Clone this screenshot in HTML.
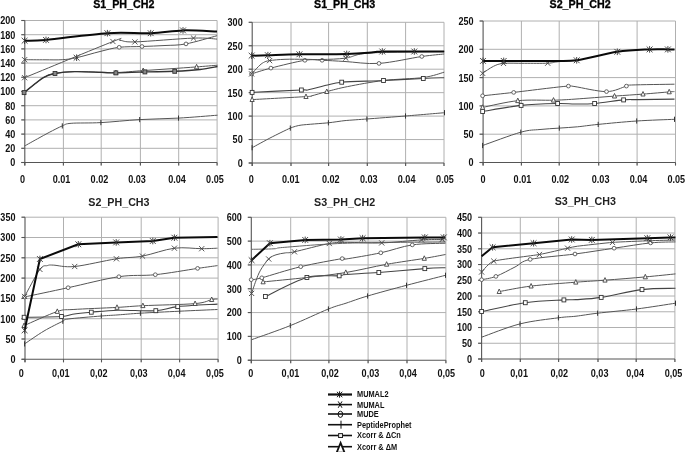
<!DOCTYPE html>
<html><head><meta charset="utf-8"><style>
html,body{margin:0;padding:0;background:#fff;}
body{width:685px;height:452px;overflow:hidden;}
svg{display:block;}
#wrap{will-change:transform;filter:blur(0.3px);}
.lab{font-family:"Liberation Sans", sans-serif;font-size:10.2px;font-weight:bold;fill:#111;}
.ttl{font-family:"Liberation Sans", sans-serif;font-size:10.7px;font-weight:bold;fill:#000;stroke:#000;stroke-width:0.3px;}
.ttl2{font-family:"Liberation Sans", sans-serif;font-size:10.7px;font-weight:bold;fill:#222;}
.leg{font-family:"Liberation Sans", sans-serif;font-size:8.3px;font-weight:bold;fill:#111;}
</style></head><body>
<div id="wrap"><svg width="685" height="452" viewBox="0 0 685 452">
<line x1="21.30" y1="148.30" x2="217.10" y2="148.30" stroke="#b0b0b0" stroke-width="1.0"/>
<line x1="21.30" y1="134.10" x2="217.10" y2="134.10" stroke="#b0b0b0" stroke-width="1.0"/>
<line x1="21.30" y1="119.90" x2="217.10" y2="119.90" stroke="#b0b0b0" stroke-width="1.0"/>
<line x1="21.30" y1="105.70" x2="217.10" y2="105.70" stroke="#b0b0b0" stroke-width="1.0"/>
<line x1="21.30" y1="91.50" x2="217.10" y2="91.50" stroke="#b0b0b0" stroke-width="1.0"/>
<line x1="21.30" y1="77.30" x2="217.10" y2="77.30" stroke="#b0b0b0" stroke-width="1.0"/>
<line x1="21.30" y1="63.10" x2="217.10" y2="63.10" stroke="#b0b0b0" stroke-width="1.0"/>
<line x1="21.30" y1="48.90" x2="217.10" y2="48.90" stroke="#b0b0b0" stroke-width="1.0"/>
<line x1="21.30" y1="34.70" x2="217.10" y2="34.70" stroke="#b0b0b0" stroke-width="1.0"/>
<line x1="21.30" y1="20.50" x2="217.10" y2="20.50" stroke="#b0b0b0" stroke-width="1.0"/>
<line x1="63.40" y1="20.50" x2="63.40" y2="165.50" stroke="#b0b0b0" stroke-width="1.0"/>
<line x1="101.20" y1="20.50" x2="101.20" y2="165.50" stroke="#b0b0b0" stroke-width="1.0"/>
<line x1="140.40" y1="20.50" x2="140.40" y2="165.50" stroke="#b0b0b0" stroke-width="1.0"/>
<line x1="178.70" y1="20.50" x2="178.70" y2="165.50" stroke="#b0b0b0" stroke-width="1.0"/>
<line x1="217.10" y1="20.50" x2="217.10" y2="165.50" stroke="#b0b0b0" stroke-width="1.0"/>
<line x1="21.30" y1="162.50" x2="217.10" y2="162.50" stroke="#555" stroke-width="1.1"/>
<line x1="24.80" y1="20.50" x2="24.80" y2="165.50" stroke="#555" stroke-width="1.1"/>
<line x1="21.30" y1="162.50" x2="24.80" y2="162.50" stroke="#555" stroke-width="1.1"/>
<line x1="21.30" y1="148.30" x2="24.80" y2="148.30" stroke="#555" stroke-width="1.1"/>
<line x1="21.30" y1="134.10" x2="24.80" y2="134.10" stroke="#555" stroke-width="1.1"/>
<line x1="21.30" y1="119.90" x2="24.80" y2="119.90" stroke="#555" stroke-width="1.1"/>
<line x1="21.30" y1="105.70" x2="24.80" y2="105.70" stroke="#555" stroke-width="1.1"/>
<line x1="21.30" y1="91.50" x2="24.80" y2="91.50" stroke="#555" stroke-width="1.1"/>
<line x1="21.30" y1="77.30" x2="24.80" y2="77.30" stroke="#555" stroke-width="1.1"/>
<line x1="21.30" y1="63.10" x2="24.80" y2="63.10" stroke="#555" stroke-width="1.1"/>
<line x1="21.30" y1="48.90" x2="24.80" y2="48.90" stroke="#555" stroke-width="1.1"/>
<line x1="21.30" y1="34.70" x2="24.80" y2="34.70" stroke="#555" stroke-width="1.1"/>
<line x1="21.30" y1="20.50" x2="24.80" y2="20.50" stroke="#555" stroke-width="1.1"/>
<line x1="24.80" y1="162.50" x2="24.80" y2="165.50" stroke="#555" stroke-width="1.1"/>
<line x1="63.40" y1="162.50" x2="63.40" y2="165.50" stroke="#555" stroke-width="1.1"/>
<line x1="101.20" y1="162.50" x2="101.20" y2="165.50" stroke="#555" stroke-width="1.1"/>
<line x1="140.40" y1="162.50" x2="140.40" y2="165.50" stroke="#555" stroke-width="1.1"/>
<line x1="178.70" y1="162.50" x2="178.70" y2="165.50" stroke="#555" stroke-width="1.1"/>
<line x1="217.10" y1="162.50" x2="217.10" y2="165.50" stroke="#555" stroke-width="1.1"/>
<text transform="translate(15.30,166.40) scale(0.89,1)" text-anchor="end" class="lab">0</text>
<text transform="translate(15.30,152.20) scale(0.89,1)" text-anchor="end" class="lab">20</text>
<text transform="translate(15.30,138.00) scale(0.89,1)" text-anchor="end" class="lab">40</text>
<text transform="translate(15.30,123.80) scale(0.89,1)" text-anchor="end" class="lab">60</text>
<text transform="translate(15.30,109.60) scale(0.89,1)" text-anchor="end" class="lab">80</text>
<text transform="translate(15.30,95.40) scale(0.89,1)" text-anchor="end" class="lab">100</text>
<text transform="translate(15.30,81.20) scale(0.89,1)" text-anchor="end" class="lab">120</text>
<text transform="translate(15.30,67.00) scale(0.89,1)" text-anchor="end" class="lab">140</text>
<text transform="translate(15.30,52.80) scale(0.89,1)" text-anchor="end" class="lab">160</text>
<text transform="translate(15.30,38.60) scale(0.89,1)" text-anchor="end" class="lab">180</text>
<text transform="translate(15.30,24.40) scale(0.89,1)" text-anchor="end" class="lab">200</text>
<text transform="translate(22.50,182.90) scale(0.89,1)" text-anchor="middle" class="lab">0</text>
<text transform="translate(61.50,182.90) scale(0.89,1)" text-anchor="middle" class="lab">0.01</text>
<text transform="translate(99.40,182.90) scale(0.89,1)" text-anchor="middle" class="lab">0.02</text>
<text transform="translate(137.00,182.90) scale(0.89,1)" text-anchor="middle" class="lab">0.03</text>
<text transform="translate(177.00,182.90) scale(0.89,1)" text-anchor="middle" class="lab">0.04</text>
<text transform="translate(214.90,182.90) scale(0.89,1)" text-anchor="middle" class="lab">0.05</text>
<text x="123.80" y="7.70" text-anchor="middle" class="ttl">S1_PH_CH2</text>
<line x1="248.70" y1="139.55" x2="444.00" y2="139.55" stroke="#b0b0b0" stroke-width="1.0"/>
<line x1="248.70" y1="116.10" x2="444.00" y2="116.10" stroke="#b0b0b0" stroke-width="1.0"/>
<line x1="248.70" y1="92.65" x2="444.00" y2="92.65" stroke="#b0b0b0" stroke-width="1.0"/>
<line x1="248.70" y1="69.20" x2="444.00" y2="69.20" stroke="#b0b0b0" stroke-width="1.0"/>
<line x1="248.70" y1="45.75" x2="444.00" y2="45.75" stroke="#b0b0b0" stroke-width="1.0"/>
<line x1="248.70" y1="22.30" x2="444.00" y2="22.30" stroke="#b0b0b0" stroke-width="1.0"/>
<line x1="291.00" y1="22.30" x2="291.00" y2="166.00" stroke="#b0b0b0" stroke-width="1.0"/>
<line x1="328.60" y1="22.30" x2="328.60" y2="166.00" stroke="#b0b0b0" stroke-width="1.0"/>
<line x1="367.30" y1="22.30" x2="367.30" y2="166.00" stroke="#b0b0b0" stroke-width="1.0"/>
<line x1="405.60" y1="22.30" x2="405.60" y2="166.00" stroke="#b0b0b0" stroke-width="1.0"/>
<line x1="444.00" y1="22.30" x2="444.00" y2="166.00" stroke="#b0b0b0" stroke-width="1.0"/>
<line x1="248.70" y1="163.00" x2="444.00" y2="163.00" stroke="#555" stroke-width="1.1"/>
<line x1="252.20" y1="22.30" x2="252.20" y2="166.00" stroke="#555" stroke-width="1.1"/>
<line x1="248.70" y1="163.00" x2="252.20" y2="163.00" stroke="#555" stroke-width="1.1"/>
<line x1="248.70" y1="139.55" x2="252.20" y2="139.55" stroke="#555" stroke-width="1.1"/>
<line x1="248.70" y1="116.10" x2="252.20" y2="116.10" stroke="#555" stroke-width="1.1"/>
<line x1="248.70" y1="92.65" x2="252.20" y2="92.65" stroke="#555" stroke-width="1.1"/>
<line x1="248.70" y1="69.20" x2="252.20" y2="69.20" stroke="#555" stroke-width="1.1"/>
<line x1="248.70" y1="45.75" x2="252.20" y2="45.75" stroke="#555" stroke-width="1.1"/>
<line x1="248.70" y1="22.30" x2="252.20" y2="22.30" stroke="#555" stroke-width="1.1"/>
<line x1="252.20" y1="163.00" x2="252.20" y2="166.00" stroke="#555" stroke-width="1.1"/>
<line x1="291.00" y1="163.00" x2="291.00" y2="166.00" stroke="#555" stroke-width="1.1"/>
<line x1="328.60" y1="163.00" x2="328.60" y2="166.00" stroke="#555" stroke-width="1.1"/>
<line x1="367.30" y1="163.00" x2="367.30" y2="166.00" stroke="#555" stroke-width="1.1"/>
<line x1="405.60" y1="163.00" x2="405.60" y2="166.00" stroke="#555" stroke-width="1.1"/>
<line x1="444.00" y1="163.00" x2="444.00" y2="166.00" stroke="#555" stroke-width="1.1"/>
<text transform="translate(242.70,166.90) scale(0.89,1)" text-anchor="end" class="lab">0</text>
<text transform="translate(242.70,143.45) scale(0.89,1)" text-anchor="end" class="lab">50</text>
<text transform="translate(242.70,120.00) scale(0.89,1)" text-anchor="end" class="lab">100</text>
<text transform="translate(242.70,96.55) scale(0.89,1)" text-anchor="end" class="lab">150</text>
<text transform="translate(242.70,73.10) scale(0.89,1)" text-anchor="end" class="lab">200</text>
<text transform="translate(242.70,49.65) scale(0.89,1)" text-anchor="end" class="lab">250</text>
<text transform="translate(242.70,26.20) scale(0.89,1)" text-anchor="end" class="lab">300</text>
<text transform="translate(251.20,182.90) scale(0.89,1)" text-anchor="middle" class="lab">0</text>
<text transform="translate(290.80,182.90) scale(0.89,1)" text-anchor="middle" class="lab">0.01</text>
<text transform="translate(330.70,182.90) scale(0.89,1)" text-anchor="middle" class="lab">0.02</text>
<text transform="translate(368.70,182.90) scale(0.89,1)" text-anchor="middle" class="lab">0.03</text>
<text transform="translate(406.60,182.90) scale(0.89,1)" text-anchor="middle" class="lab">0.04</text>
<text transform="translate(444.90,182.90) scale(0.89,1)" text-anchor="middle" class="lab">0.05</text>
<text x="344.65" y="7.70" text-anchor="middle" class="ttl">S1_PH_CH3</text>
<line x1="479.60" y1="134.20" x2="675.50" y2="134.20" stroke="#b0b0b0" stroke-width="1.0"/>
<line x1="479.60" y1="105.90" x2="675.50" y2="105.90" stroke="#b0b0b0" stroke-width="1.0"/>
<line x1="479.60" y1="77.60" x2="675.50" y2="77.60" stroke="#b0b0b0" stroke-width="1.0"/>
<line x1="479.60" y1="49.30" x2="675.50" y2="49.30" stroke="#b0b0b0" stroke-width="1.0"/>
<line x1="479.60" y1="21.00" x2="675.50" y2="21.00" stroke="#b0b0b0" stroke-width="1.0"/>
<line x1="521.40" y1="21.00" x2="521.40" y2="165.50" stroke="#b0b0b0" stroke-width="1.0"/>
<line x1="559.20" y1="21.00" x2="559.20" y2="165.50" stroke="#b0b0b0" stroke-width="1.0"/>
<line x1="598.70" y1="21.00" x2="598.70" y2="165.50" stroke="#b0b0b0" stroke-width="1.0"/>
<line x1="637.10" y1="21.00" x2="637.10" y2="165.50" stroke="#b0b0b0" stroke-width="1.0"/>
<line x1="675.50" y1="21.00" x2="675.50" y2="165.50" stroke="#b0b0b0" stroke-width="1.0"/>
<line x1="479.60" y1="162.50" x2="675.50" y2="162.50" stroke="#555" stroke-width="1.1"/>
<line x1="483.10" y1="21.00" x2="483.10" y2="165.50" stroke="#555" stroke-width="1.1"/>
<line x1="479.60" y1="162.50" x2="483.10" y2="162.50" stroke="#555" stroke-width="1.1"/>
<line x1="479.60" y1="134.20" x2="483.10" y2="134.20" stroke="#555" stroke-width="1.1"/>
<line x1="479.60" y1="105.90" x2="483.10" y2="105.90" stroke="#555" stroke-width="1.1"/>
<line x1="479.60" y1="77.60" x2="483.10" y2="77.60" stroke="#555" stroke-width="1.1"/>
<line x1="479.60" y1="49.30" x2="483.10" y2="49.30" stroke="#555" stroke-width="1.1"/>
<line x1="479.60" y1="21.00" x2="483.10" y2="21.00" stroke="#555" stroke-width="1.1"/>
<line x1="483.10" y1="162.50" x2="483.10" y2="165.50" stroke="#555" stroke-width="1.1"/>
<line x1="521.40" y1="162.50" x2="521.40" y2="165.50" stroke="#555" stroke-width="1.1"/>
<line x1="559.20" y1="162.50" x2="559.20" y2="165.50" stroke="#555" stroke-width="1.1"/>
<line x1="598.70" y1="162.50" x2="598.70" y2="165.50" stroke="#555" stroke-width="1.1"/>
<line x1="637.10" y1="162.50" x2="637.10" y2="165.50" stroke="#555" stroke-width="1.1"/>
<line x1="675.50" y1="162.50" x2="675.50" y2="165.50" stroke="#555" stroke-width="1.1"/>
<text transform="translate(473.60,166.40) scale(0.89,1)" text-anchor="end" class="lab">0</text>
<text transform="translate(473.60,138.10) scale(0.89,1)" text-anchor="end" class="lab">50</text>
<text transform="translate(473.60,109.80) scale(0.89,1)" text-anchor="end" class="lab">100</text>
<text transform="translate(473.60,81.50) scale(0.89,1)" text-anchor="end" class="lab">150</text>
<text transform="translate(473.60,53.20) scale(0.89,1)" text-anchor="end" class="lab">200</text>
<text transform="translate(473.60,24.90) scale(0.89,1)" text-anchor="end" class="lab">250</text>
<text transform="translate(483.00,182.90) scale(0.89,1)" text-anchor="middle" class="lab">0</text>
<text transform="translate(522.40,182.90) scale(0.89,1)" text-anchor="middle" class="lab">0.01</text>
<text transform="translate(560.20,182.90) scale(0.89,1)" text-anchor="middle" class="lab">0.02</text>
<text transform="translate(600.60,182.90) scale(0.89,1)" text-anchor="middle" class="lab">0.03</text>
<text transform="translate(638.50,182.90) scale(0.89,1)" text-anchor="middle" class="lab">0.04</text>
<text transform="translate(676.20,182.90) scale(0.89,1)" text-anchor="middle" class="lab">0.05</text>
<text x="580.15" y="7.70" text-anchor="middle" class="ttl">S2_PH_CH2</text>
<line x1="21.50" y1="339.00" x2="218.10" y2="339.00" stroke="#b0b0b0" stroke-width="1.0"/>
<line x1="21.50" y1="318.70" x2="218.10" y2="318.70" stroke="#b0b0b0" stroke-width="1.0"/>
<line x1="21.50" y1="298.40" x2="218.10" y2="298.40" stroke="#b0b0b0" stroke-width="1.0"/>
<line x1="21.50" y1="278.10" x2="218.10" y2="278.10" stroke="#b0b0b0" stroke-width="1.0"/>
<line x1="21.50" y1="257.80" x2="218.10" y2="257.80" stroke="#b0b0b0" stroke-width="1.0"/>
<line x1="21.50" y1="237.50" x2="218.10" y2="237.50" stroke="#b0b0b0" stroke-width="1.0"/>
<line x1="21.50" y1="217.20" x2="218.10" y2="217.20" stroke="#b0b0b0" stroke-width="1.0"/>
<line x1="63.50" y1="217.20" x2="63.50" y2="362.30" stroke="#b0b0b0" stroke-width="1.0"/>
<line x1="101.50" y1="217.20" x2="101.50" y2="362.30" stroke="#b0b0b0" stroke-width="1.0"/>
<line x1="141.20" y1="217.20" x2="141.20" y2="362.30" stroke="#b0b0b0" stroke-width="1.0"/>
<line x1="179.60" y1="217.20" x2="179.60" y2="362.30" stroke="#b0b0b0" stroke-width="1.0"/>
<line x1="218.10" y1="217.20" x2="218.10" y2="362.30" stroke="#b0b0b0" stroke-width="1.0"/>
<line x1="21.50" y1="359.30" x2="218.10" y2="359.30" stroke="#555" stroke-width="1.1"/>
<line x1="25.00" y1="217.20" x2="25.00" y2="362.30" stroke="#555" stroke-width="1.1"/>
<line x1="21.50" y1="359.30" x2="25.00" y2="359.30" stroke="#555" stroke-width="1.1"/>
<line x1="21.50" y1="339.00" x2="25.00" y2="339.00" stroke="#555" stroke-width="1.1"/>
<line x1="21.50" y1="318.70" x2="25.00" y2="318.70" stroke="#555" stroke-width="1.1"/>
<line x1="21.50" y1="298.40" x2="25.00" y2="298.40" stroke="#555" stroke-width="1.1"/>
<line x1="21.50" y1="278.10" x2="25.00" y2="278.10" stroke="#555" stroke-width="1.1"/>
<line x1="21.50" y1="257.80" x2="25.00" y2="257.80" stroke="#555" stroke-width="1.1"/>
<line x1="21.50" y1="237.50" x2="25.00" y2="237.50" stroke="#555" stroke-width="1.1"/>
<line x1="21.50" y1="217.20" x2="25.00" y2="217.20" stroke="#555" stroke-width="1.1"/>
<line x1="25.00" y1="359.30" x2="25.00" y2="362.30" stroke="#555" stroke-width="1.1"/>
<line x1="63.50" y1="359.30" x2="63.50" y2="362.30" stroke="#555" stroke-width="1.1"/>
<line x1="101.50" y1="359.30" x2="101.50" y2="362.30" stroke="#555" stroke-width="1.1"/>
<line x1="141.20" y1="359.30" x2="141.20" y2="362.30" stroke="#555" stroke-width="1.1"/>
<line x1="179.60" y1="359.30" x2="179.60" y2="362.30" stroke="#555" stroke-width="1.1"/>
<line x1="218.10" y1="359.30" x2="218.10" y2="362.30" stroke="#555" stroke-width="1.1"/>
<text transform="translate(15.50,363.20) scale(0.89,1)" text-anchor="end" class="lab">0</text>
<text transform="translate(15.50,342.90) scale(0.89,1)" text-anchor="end" class="lab">50</text>
<text transform="translate(15.50,322.60) scale(0.89,1)" text-anchor="end" class="lab">100</text>
<text transform="translate(15.50,302.30) scale(0.89,1)" text-anchor="end" class="lab">150</text>
<text transform="translate(15.50,282.00) scale(0.89,1)" text-anchor="end" class="lab">200</text>
<text transform="translate(15.50,261.70) scale(0.89,1)" text-anchor="end" class="lab">250</text>
<text transform="translate(15.50,241.40) scale(0.89,1)" text-anchor="end" class="lab">300</text>
<text transform="translate(15.50,221.10) scale(0.89,1)" text-anchor="end" class="lab">350</text>
<text transform="translate(21.20,376.60) scale(0.89,1)" text-anchor="middle" class="lab">0</text>
<text transform="translate(60.80,376.60) scale(0.89,1)" text-anchor="middle" class="lab">0,01</text>
<text transform="translate(98.70,376.60) scale(0.89,1)" text-anchor="middle" class="lab">0,02</text>
<text transform="translate(138.70,376.60) scale(0.89,1)" text-anchor="middle" class="lab">0,03</text>
<text transform="translate(176.60,376.60) scale(0.89,1)" text-anchor="middle" class="lab">0,04</text>
<text transform="translate(214.90,376.60) scale(0.89,1)" text-anchor="middle" class="lab">0,05</text>
<text x="118.95" y="205.70" text-anchor="middle" class="ttl2">S2_PH_CH3</text>
<line x1="247.80" y1="336.38" x2="445.90" y2="336.38" stroke="#b0b0b0" stroke-width="1.0"/>
<line x1="247.80" y1="312.57" x2="445.90" y2="312.57" stroke="#b0b0b0" stroke-width="1.0"/>
<line x1="247.80" y1="288.75" x2="445.90" y2="288.75" stroke="#b0b0b0" stroke-width="1.0"/>
<line x1="247.80" y1="264.93" x2="445.90" y2="264.93" stroke="#b0b0b0" stroke-width="1.0"/>
<line x1="247.80" y1="241.12" x2="445.90" y2="241.12" stroke="#b0b0b0" stroke-width="1.0"/>
<line x1="247.80" y1="217.30" x2="445.90" y2="217.30" stroke="#b0b0b0" stroke-width="1.0"/>
<line x1="290.70" y1="217.30" x2="290.70" y2="363.20" stroke="#b0b0b0" stroke-width="1.0"/>
<line x1="328.90" y1="217.30" x2="328.90" y2="363.20" stroke="#b0b0b0" stroke-width="1.0"/>
<line x1="368.10" y1="217.30" x2="368.10" y2="363.20" stroke="#b0b0b0" stroke-width="1.0"/>
<line x1="407.00" y1="217.30" x2="407.00" y2="363.20" stroke="#b0b0b0" stroke-width="1.0"/>
<line x1="445.90" y1="217.30" x2="445.90" y2="363.20" stroke="#b0b0b0" stroke-width="1.0"/>
<line x1="247.80" y1="360.20" x2="445.90" y2="360.20" stroke="#555" stroke-width="1.1"/>
<line x1="251.30" y1="217.30" x2="251.30" y2="363.20" stroke="#555" stroke-width="1.1"/>
<line x1="247.80" y1="360.20" x2="251.30" y2="360.20" stroke="#555" stroke-width="1.1"/>
<line x1="247.80" y1="336.38" x2="251.30" y2="336.38" stroke="#555" stroke-width="1.1"/>
<line x1="247.80" y1="312.57" x2="251.30" y2="312.57" stroke="#555" stroke-width="1.1"/>
<line x1="247.80" y1="288.75" x2="251.30" y2="288.75" stroke="#555" stroke-width="1.1"/>
<line x1="247.80" y1="264.93" x2="251.30" y2="264.93" stroke="#555" stroke-width="1.1"/>
<line x1="247.80" y1="241.12" x2="251.30" y2="241.12" stroke="#555" stroke-width="1.1"/>
<line x1="247.80" y1="217.30" x2="251.30" y2="217.30" stroke="#555" stroke-width="1.1"/>
<line x1="251.30" y1="360.20" x2="251.30" y2="363.20" stroke="#555" stroke-width="1.1"/>
<line x1="290.70" y1="360.20" x2="290.70" y2="363.20" stroke="#555" stroke-width="1.1"/>
<line x1="328.90" y1="360.20" x2="328.90" y2="363.20" stroke="#555" stroke-width="1.1"/>
<line x1="368.10" y1="360.20" x2="368.10" y2="363.20" stroke="#555" stroke-width="1.1"/>
<line x1="407.00" y1="360.20" x2="407.00" y2="363.20" stroke="#555" stroke-width="1.1"/>
<line x1="445.90" y1="360.20" x2="445.90" y2="363.20" stroke="#555" stroke-width="1.1"/>
<text transform="translate(241.80,364.10) scale(0.89,1)" text-anchor="end" class="lab">0</text>
<text transform="translate(241.80,340.28) scale(0.89,1)" text-anchor="end" class="lab">100</text>
<text transform="translate(241.80,316.47) scale(0.89,1)" text-anchor="end" class="lab">200</text>
<text transform="translate(241.80,292.65) scale(0.89,1)" text-anchor="end" class="lab">300</text>
<text transform="translate(241.80,268.83) scale(0.89,1)" text-anchor="end" class="lab">400</text>
<text transform="translate(241.80,245.02) scale(0.89,1)" text-anchor="end" class="lab">500</text>
<text transform="translate(241.80,221.20) scale(0.89,1)" text-anchor="end" class="lab">600</text>
<text transform="translate(250.80,376.60) scale(0.89,1)" text-anchor="middle" class="lab">0</text>
<text transform="translate(290.40,376.60) scale(0.89,1)" text-anchor="middle" class="lab">0,01</text>
<text transform="translate(330.00,376.60) scale(0.89,1)" text-anchor="middle" class="lab">0,02</text>
<text transform="translate(370.40,376.60) scale(0.89,1)" text-anchor="middle" class="lab">0,03</text>
<text transform="translate(408.00,376.60) scale(0.89,1)" text-anchor="middle" class="lab">0,04</text>
<text transform="translate(446.20,376.60) scale(0.89,1)" text-anchor="middle" class="lab">0,05</text>
<text x="344.65" y="205.60" text-anchor="middle" class="ttl2">S3_PH_CH2</text>
<line x1="478.10" y1="343.26" x2="674.90" y2="343.26" stroke="#b0b0b0" stroke-width="1.0"/>
<line x1="478.10" y1="327.51" x2="674.90" y2="327.51" stroke="#b0b0b0" stroke-width="1.0"/>
<line x1="478.10" y1="311.77" x2="674.90" y2="311.77" stroke="#b0b0b0" stroke-width="1.0"/>
<line x1="478.10" y1="296.02" x2="674.90" y2="296.02" stroke="#b0b0b0" stroke-width="1.0"/>
<line x1="478.10" y1="280.28" x2="674.90" y2="280.28" stroke="#b0b0b0" stroke-width="1.0"/>
<line x1="478.10" y1="264.53" x2="674.90" y2="264.53" stroke="#b0b0b0" stroke-width="1.0"/>
<line x1="478.10" y1="248.79" x2="674.90" y2="248.79" stroke="#b0b0b0" stroke-width="1.0"/>
<line x1="478.10" y1="233.04" x2="674.90" y2="233.04" stroke="#b0b0b0" stroke-width="1.0"/>
<line x1="478.10" y1="217.30" x2="674.90" y2="217.30" stroke="#b0b0b0" stroke-width="1.0"/>
<line x1="520.30" y1="217.30" x2="520.30" y2="362.00" stroke="#b0b0b0" stroke-width="1.0"/>
<line x1="558.60" y1="217.30" x2="558.60" y2="362.00" stroke="#b0b0b0" stroke-width="1.0"/>
<line x1="598.00" y1="217.30" x2="598.00" y2="362.00" stroke="#b0b0b0" stroke-width="1.0"/>
<line x1="636.20" y1="217.30" x2="636.20" y2="362.00" stroke="#b0b0b0" stroke-width="1.0"/>
<line x1="674.90" y1="217.30" x2="674.90" y2="362.00" stroke="#b0b0b0" stroke-width="1.0"/>
<line x1="478.10" y1="359.00" x2="674.90" y2="359.00" stroke="#555" stroke-width="1.1"/>
<line x1="481.60" y1="217.30" x2="481.60" y2="362.00" stroke="#555" stroke-width="1.1"/>
<line x1="478.10" y1="359.00" x2="481.60" y2="359.00" stroke="#555" stroke-width="1.1"/>
<line x1="478.10" y1="343.26" x2="481.60" y2="343.26" stroke="#555" stroke-width="1.1"/>
<line x1="478.10" y1="327.51" x2="481.60" y2="327.51" stroke="#555" stroke-width="1.1"/>
<line x1="478.10" y1="311.77" x2="481.60" y2="311.77" stroke="#555" stroke-width="1.1"/>
<line x1="478.10" y1="296.02" x2="481.60" y2="296.02" stroke="#555" stroke-width="1.1"/>
<line x1="478.10" y1="280.28" x2="481.60" y2="280.28" stroke="#555" stroke-width="1.1"/>
<line x1="478.10" y1="264.53" x2="481.60" y2="264.53" stroke="#555" stroke-width="1.1"/>
<line x1="478.10" y1="248.79" x2="481.60" y2="248.79" stroke="#555" stroke-width="1.1"/>
<line x1="478.10" y1="233.04" x2="481.60" y2="233.04" stroke="#555" stroke-width="1.1"/>
<line x1="478.10" y1="217.30" x2="481.60" y2="217.30" stroke="#555" stroke-width="1.1"/>
<line x1="481.60" y1="359.00" x2="481.60" y2="362.00" stroke="#555" stroke-width="1.1"/>
<line x1="520.30" y1="359.00" x2="520.30" y2="362.00" stroke="#555" stroke-width="1.1"/>
<line x1="558.60" y1="359.00" x2="558.60" y2="362.00" stroke="#555" stroke-width="1.1"/>
<line x1="598.00" y1="359.00" x2="598.00" y2="362.00" stroke="#555" stroke-width="1.1"/>
<line x1="636.20" y1="359.00" x2="636.20" y2="362.00" stroke="#555" stroke-width="1.1"/>
<line x1="674.90" y1="359.00" x2="674.90" y2="362.00" stroke="#555" stroke-width="1.1"/>
<text transform="translate(472.10,362.90) scale(0.89,1)" text-anchor="end" class="lab">0</text>
<text transform="translate(472.10,347.16) scale(0.89,1)" text-anchor="end" class="lab">50</text>
<text transform="translate(472.10,331.41) scale(0.89,1)" text-anchor="end" class="lab">100</text>
<text transform="translate(472.10,315.67) scale(0.89,1)" text-anchor="end" class="lab">150</text>
<text transform="translate(472.10,299.92) scale(0.89,1)" text-anchor="end" class="lab">200</text>
<text transform="translate(472.10,284.18) scale(0.89,1)" text-anchor="end" class="lab">250</text>
<text transform="translate(472.10,268.43) scale(0.89,1)" text-anchor="end" class="lab">300</text>
<text transform="translate(472.10,252.69) scale(0.89,1)" text-anchor="end" class="lab">350</text>
<text transform="translate(472.10,236.94) scale(0.89,1)" text-anchor="end" class="lab">400</text>
<text transform="translate(472.10,221.20) scale(0.89,1)" text-anchor="end" class="lab">450</text>
<text transform="translate(482.30,376.60) scale(0.89,1)" text-anchor="middle" class="lab">0</text>
<text transform="translate(519.10,376.60) scale(0.89,1)" text-anchor="middle" class="lab">0,01</text>
<text transform="translate(559.20,376.60) scale(0.89,1)" text-anchor="middle" class="lab">0,02</text>
<text transform="translate(599.60,376.60) scale(0.89,1)" text-anchor="middle" class="lab">0,03</text>
<text transform="translate(635.10,376.60) scale(0.89,1)" text-anchor="middle" class="lab">0,04</text>
<text transform="translate(673.50,376.60) scale(0.89,1)" text-anchor="middle" class="lab">0,05</text>
<text x="585.30" y="205.40" text-anchor="middle" class="ttl2">S3_PH_CH3</text>
<path d="M24.10,92.60 C27.32,90.12 38.25,80.88 43.40,77.70 C48.55,74.52 49.78,74.52 55.00,73.50 C60.22,72.48 66.98,71.82 74.70,71.60 C82.42,71.38 94.43,72.03 101.30,72.20 C108.17,72.37 108.92,72.87 115.90,72.60 C122.88,72.33 134.18,71.23 143.20,70.60 C152.22,69.97 161.10,69.42 170.00,68.80 C178.90,68.18 188.68,67.50 196.60,66.90 C204.52,66.30 214.02,65.48 217.50,65.20" stroke="#555" stroke-width="1.0" fill="none" stroke-linejoin="round"/>
<path d="M115.90,70.00L118.00,74.50L113.80,74.50Z" stroke="#444" stroke-width="0.9" fill="#fff"/>
<path d="M143.20,68.00L145.30,72.50L141.10,72.50Z" stroke="#444" stroke-width="0.9" fill="#fff"/>
<path d="M196.60,64.30L198.70,68.80L194.50,68.80Z" stroke="#444" stroke-width="0.9" fill="#fff"/>
<path d="M24.10,92.60 C27.32,90.12 38.25,80.88 43.40,77.70 C48.55,74.52 49.78,74.52 55.00,73.50 C60.22,72.48 66.98,71.78 74.70,71.60 C82.42,71.42 94.43,72.18 101.30,72.40 C108.17,72.62 108.63,72.98 115.90,72.90 C123.17,72.82 135.10,72.17 144.90,71.90 C154.70,71.63 165.52,71.70 174.70,71.30 C183.88,70.90 192.87,70.30 200.00,69.50 C207.13,68.70 214.58,67.00 217.50,66.50" stroke="#333" stroke-width="1.4" fill="none" stroke-linejoin="round"/>
<rect x="22.20" y="90.60" width="3.8" height="4.0" stroke="#333" stroke-width="0.9" fill="#888"/>
<rect x="53.10" y="71.50" width="3.8" height="4.0" stroke="#333" stroke-width="0.9" fill="#888"/>
<rect x="114.00" y="70.90" width="3.8" height="4.0" stroke="#333" stroke-width="0.9" fill="#888"/>
<rect x="143.00" y="69.90" width="3.8" height="4.0" stroke="#333" stroke-width="0.9" fill="#888"/>
<rect x="172.80" y="69.30" width="3.8" height="4.0" stroke="#333" stroke-width="0.9" fill="#888"/>
<path d="M24.40,146.10 C26.58,144.88 33.37,141.08 37.50,138.80 C41.63,136.52 45.07,134.55 49.20,132.40 C53.33,130.25 58.65,127.42 62.30,125.90 C65.95,124.38 64.67,123.85 71.10,123.30 C77.53,122.75 89.47,123.22 100.90,122.60 C112.33,121.98 126.77,120.35 139.70,119.60 C152.63,118.85 165.53,118.83 178.50,118.10 C191.47,117.37 211.00,115.68 217.50,115.20" stroke="#555" stroke-width="1.0" fill="none" stroke-linejoin="round"/>
<path d="M62.30,123.30V128.50" stroke="#333" stroke-width="1" fill="none"/>
<path d="M100.90,120.00V125.20" stroke="#333" stroke-width="1" fill="none"/>
<path d="M139.70,117.00V122.20" stroke="#333" stroke-width="1" fill="none"/>
<path d="M178.50,115.50V120.70" stroke="#333" stroke-width="1" fill="none"/>
<path d="M24.60,59.70 C28.00,59.72 38.73,59.80 45.00,59.80 C51.27,59.80 56.93,60.05 62.20,59.70 C67.47,59.35 70.30,59.07 76.60,57.70 C82.90,56.33 92.90,53.23 100.00,51.50 C107.10,49.77 112.20,48.13 119.20,47.30 C126.20,46.47 134.37,46.80 142.00,46.50 C149.63,46.20 157.67,45.93 165.00,45.50 C172.33,45.07 177.32,45.53 186.00,43.90 C194.68,42.27 211.92,37.07 217.10,35.70" stroke="#555" stroke-width="1.0" fill="none" stroke-linejoin="round"/>
<path d="M22.00,57.10L27.20,62.30M22.00,62.30L27.20,57.10" stroke="#444" stroke-width="0.9" fill="none"/>
<path d="M76.60,54.40V61.00M73.70,54.80L79.50,60.60M73.70,60.60L79.50,54.80" stroke="#333" stroke-width="0.9" fill="none"/>
<ellipse cx="119.20" cy="47.30" rx="1.9" ry="1.85" stroke="#555" stroke-width="0.9" fill="#fff"/>
<ellipse cx="142.00" cy="46.50" rx="1.9" ry="1.85" stroke="#555" stroke-width="0.9" fill="#fff"/>
<ellipse cx="186.00" cy="43.90" rx="1.9" ry="1.85" stroke="#555" stroke-width="0.9" fill="#fff"/>
<path d="M24.60,77.70 C39.32,71.67 97.00,47.72 112.90,41.50 C128.80,35.28 116.33,40.33 120.00,40.40 C123.67,40.47 122.65,42.28 134.90,41.90 C147.15,41.52 179.80,38.57 193.50,38.10 C207.20,37.63 213.17,38.93 217.10,39.10" stroke="#555" stroke-width="1.0" fill="none" stroke-linejoin="round"/>
<path d="M22.00,75.10L27.20,80.30M22.00,80.30L27.20,75.10" stroke="#444" stroke-width="0.9" fill="none"/>
<path d="M110.30,38.90L115.50,44.10M110.30,44.10L115.50,38.90" stroke="#444" stroke-width="0.9" fill="none"/>
<path d="M132.30,39.30L137.50,44.50M132.30,44.50L137.50,39.30" stroke="#444" stroke-width="0.9" fill="none"/>
<path d="M190.90,35.50L196.10,40.70M190.90,40.70L196.10,35.50" stroke="#444" stroke-width="0.9" fill="none"/>
<path d="M24.60,40.70 C28.17,40.57 32.20,41.15 46.00,39.90 C59.80,38.65 89.95,34.32 107.40,33.20 C124.85,32.08 138.10,33.67 150.70,33.20 C163.30,32.73 171.95,30.67 183.00,30.40 C194.05,30.13 211.33,31.40 217.00,31.60" stroke="#0a0a0a" stroke-width="2.0" fill="none" stroke-linejoin="round"/>
<path d="M24.60,37.40V44.00M21.70,37.80L27.50,43.60M21.70,43.60L27.50,37.80" stroke="#333" stroke-width="0.9" fill="none"/>
<path d="M46.00,36.60V43.20M43.10,37.00L48.90,42.80M43.10,42.80L48.90,37.00" stroke="#333" stroke-width="0.9" fill="none"/>
<path d="M107.40,29.90V36.50M104.50,30.30L110.30,36.10M104.50,36.10L110.30,30.30" stroke="#333" stroke-width="0.9" fill="none"/>
<path d="M150.70,29.90V36.50M147.80,30.30L153.60,36.10M147.80,36.10L153.60,30.30" stroke="#333" stroke-width="0.9" fill="none"/>
<path d="M183.00,27.10V33.70M180.10,27.50L185.90,33.30M180.10,33.30L185.90,27.50" stroke="#333" stroke-width="0.9" fill="none"/>
<path d="M252.10,147.70 C253.99,146.68 267.18,139.46 271.00,137.50 C274.82,135.54 287.29,129.34 290.30,128.10 C293.31,126.86 297.29,125.63 301.10,125.10 C304.91,124.57 324.01,123.25 328.40,122.80 C332.79,122.35 341.15,120.98 345.00,120.60 C348.85,120.22 360.85,119.46 366.90,119.00 C372.95,118.54 397.74,116.63 405.50,116.00 C413.26,115.37 440.60,113.03 444.50,112.70" stroke="#555" stroke-width="1.0" fill="none" stroke-linejoin="round"/>
<path d="M252.10,145.10V150.30" stroke="#333" stroke-width="1" fill="none"/>
<path d="M290.30,125.50V130.70" stroke="#333" stroke-width="1" fill="none"/>
<path d="M328.40,120.20V125.40" stroke="#333" stroke-width="1" fill="none"/>
<path d="M366.90,116.40V121.60" stroke="#333" stroke-width="1" fill="none"/>
<path d="M405.50,113.40V118.60" stroke="#333" stroke-width="1" fill="none"/>
<path d="M444.50,110.10V115.30" stroke="#333" stroke-width="1" fill="none"/>
<path d="M252.10,99.60 C261.08,99.10 296.05,97.23 306.00,96.60 C315.95,95.97 308.33,96.63 311.80,95.80 C315.27,94.97 320.85,93.13 326.80,91.60 C332.75,90.07 338.05,88.45 347.50,86.60 C356.95,84.75 370.87,82.02 383.50,80.50 C396.13,78.98 413.18,78.88 423.30,77.50 C433.42,76.12 440.72,73.08 444.20,72.20" stroke="#555" stroke-width="1.0" fill="none" stroke-linejoin="round"/>
<path d="M252.10,97.00L254.20,101.50L250.00,101.50Z" stroke="#444" stroke-width="0.9" fill="#fff"/>
<path d="M306.00,94.00L308.10,98.50L303.90,98.50Z" stroke="#444" stroke-width="0.9" fill="#fff"/>
<path d="M326.80,89.00L328.90,93.50L324.70,93.50Z" stroke="#444" stroke-width="0.9" fill="#fff"/>
<path d="M252.10,92.40 C260.32,92.00 292.13,90.40 301.40,90.00 C310.67,89.60 303.33,90.83 307.70,90.00 C312.07,89.17 321.93,86.30 327.60,85.00 C333.27,83.70 332.38,82.95 341.70,82.20 C351.02,81.45 369.90,81.12 383.50,80.50 C397.10,79.88 413.18,78.97 423.30,78.50 C433.42,78.03 440.72,77.83 444.20,77.70" stroke="#444" stroke-width="1.1" fill="none" stroke-linejoin="round"/>
<rect x="250.20" y="90.40" width="3.8" height="4.0" stroke="#333" stroke-width="0.9" fill="#fff"/>
<rect x="299.50" y="88.00" width="3.8" height="4.0" stroke="#333" stroke-width="0.9" fill="#fff"/>
<rect x="339.80" y="80.20" width="3.8" height="4.0" stroke="#333" stroke-width="0.9" fill="#fff"/>
<rect x="381.60" y="78.50" width="3.8" height="4.0" stroke="#333" stroke-width="0.9" fill="#fff"/>
<rect x="421.40" y="76.50" width="3.8" height="4.0" stroke="#333" stroke-width="0.9" fill="#fff"/>
<path d="M251.60,73.90 C254.82,72.93 262.02,70.37 270.90,68.10 C279.78,65.83 296.37,61.60 304.90,60.30 C313.43,59.00 315.42,60.10 322.10,60.30 C328.78,60.50 335.52,60.98 345.00,61.50 C354.48,62.02 366.20,64.23 379.00,63.40 C391.80,62.57 410.93,58.07 421.80,56.50 C432.67,54.93 440.47,54.42 444.20,54.00" stroke="#555" stroke-width="1.0" fill="none" stroke-linejoin="round"/>
<ellipse cx="251.60" cy="73.90" rx="1.9" ry="1.85" stroke="#555" stroke-width="0.9" fill="#fff"/>
<ellipse cx="270.90" cy="68.10" rx="1.9" ry="1.85" stroke="#555" stroke-width="0.9" fill="#fff"/>
<ellipse cx="304.90" cy="60.30" rx="1.9" ry="1.85" stroke="#555" stroke-width="0.9" fill="#fff"/>
<ellipse cx="322.10" cy="60.30" rx="1.9" ry="1.85" stroke="#555" stroke-width="0.9" fill="#fff"/>
<ellipse cx="379.00" cy="63.40" rx="1.9" ry="1.85" stroke="#555" stroke-width="0.9" fill="#fff"/>
<ellipse cx="421.80" cy="56.50" rx="1.9" ry="1.85" stroke="#555" stroke-width="0.9" fill="#fff"/>
<path d="M251.60,73.90 C252.77,72.65 256.62,68.30 258.60,66.40 C260.58,64.50 261.67,63.47 263.50,62.50 C265.33,61.53 266.02,61.13 269.60,60.60 C273.18,60.07 279.20,59.52 285.00,59.30 C290.80,59.08 298.23,59.27 304.40,59.30 C310.57,59.33 315.10,59.70 322.00,59.50 C328.90,59.30 337.80,59.18 345.80,58.10 C353.80,57.02 353.60,54.10 370.00,53.00 C386.40,51.90 431.83,51.75 444.20,51.50" stroke="#555" stroke-width="1.0" fill="none" stroke-linejoin="round"/>
<path d="M249.00,71.30L254.20,76.50M249.00,76.50L254.20,71.30" stroke="#444" stroke-width="0.9" fill="none"/>
<path d="M267.00,58.00L272.20,63.20M267.00,63.20L272.20,58.00" stroke="#444" stroke-width="0.9" fill="none"/>
<path d="M343.20,55.50L348.40,60.70M343.20,60.70L348.40,55.50" stroke="#444" stroke-width="0.9" fill="none"/>
<path d="M251.60,55.70 C254.32,55.62 259.93,55.43 267.90,55.20 C275.87,54.97 286.27,54.50 299.40,54.30 C312.53,54.10 334.40,54.33 346.70,54.00 C359.00,53.67 367.27,52.72 373.20,52.30 C379.13,51.88 375.45,51.63 382.30,51.50 C389.15,51.37 403.98,51.50 414.30,51.50 C424.62,51.50 439.22,51.50 444.20,51.50" stroke="#0a0a0a" stroke-width="2.0" fill="none" stroke-linejoin="round"/>
<path d="M251.60,52.40V59.00M248.70,52.80L254.50,58.60M248.70,58.60L254.50,52.80" stroke="#333" stroke-width="0.9" fill="none"/>
<path d="M267.90,51.90V58.50M265.00,52.30L270.80,58.10M265.00,58.10L270.80,52.30" stroke="#333" stroke-width="0.9" fill="none"/>
<path d="M299.40,51.00V57.60M296.50,51.40L302.30,57.20M296.50,57.20L302.30,51.40" stroke="#333" stroke-width="0.9" fill="none"/>
<path d="M346.70,50.70V57.30M343.80,51.10L349.60,56.90M343.80,56.90L349.60,51.10" stroke="#333" stroke-width="0.9" fill="none"/>
<path d="M382.30,48.20V54.80M379.40,48.60L385.20,54.40M379.40,54.40L385.20,48.60" stroke="#333" stroke-width="0.9" fill="none"/>
<path d="M414.30,48.20V54.80M411.40,48.60L417.20,54.40M411.40,54.40L417.20,48.60" stroke="#333" stroke-width="0.9" fill="none"/>
<path d="M482.60,145.50 C488.97,143.28 511.23,134.87 520.80,132.20 C530.37,129.53 533.58,130.18 540.00,129.50 C546.42,128.82 553.05,128.55 559.30,128.10 C565.55,127.65 571.02,127.42 577.50,126.80 C583.98,126.18 588.33,125.37 598.20,124.40 C608.07,123.43 623.98,121.85 636.70,121.00 C649.42,120.15 668.20,119.58 674.50,119.30" stroke="#555" stroke-width="1.0" fill="none" stroke-linejoin="round"/>
<path d="M482.60,142.90V148.10" stroke="#333" stroke-width="1" fill="none"/>
<path d="M520.80,129.60V134.80" stroke="#333" stroke-width="1" fill="none"/>
<path d="M559.30,125.50V130.70" stroke="#333" stroke-width="1" fill="none"/>
<path d="M598.20,121.80V127.00" stroke="#333" stroke-width="1" fill="none"/>
<path d="M636.70,118.40V123.60" stroke="#333" stroke-width="1" fill="none"/>
<path d="M674.50,116.70V121.90" stroke="#333" stroke-width="1" fill="none"/>
<path d="M482.60,111.50 C489.02,110.48 508.60,106.73 521.10,105.40 C533.60,104.07 548.62,103.73 557.60,103.50 C566.58,103.27 568.83,104.00 575.00,104.00 C581.17,104.00 586.50,104.18 594.60,103.50 C602.70,102.82 616.37,100.55 623.60,99.90 C630.83,99.25 629.52,99.73 638.00,99.60 C646.48,99.47 668.42,99.18 674.50,99.10" stroke="#444" stroke-width="1.1" fill="none" stroke-linejoin="round"/>
<rect x="480.70" y="109.50" width="3.8" height="4.0" stroke="#333" stroke-width="0.9" fill="#fff"/>
<rect x="519.20" y="103.40" width="3.8" height="4.0" stroke="#333" stroke-width="0.9" fill="#fff"/>
<rect x="555.70" y="101.50" width="3.8" height="4.0" stroke="#333" stroke-width="0.9" fill="#fff"/>
<rect x="592.70" y="101.50" width="3.8" height="4.0" stroke="#333" stroke-width="0.9" fill="#fff"/>
<rect x="621.70" y="97.90" width="3.8" height="4.0" stroke="#333" stroke-width="0.9" fill="#fff"/>
<path d="M482.60,107.40 C488.47,106.28 505.98,101.90 517.80,100.70 C529.62,99.50 543.97,100.47 553.50,100.20 C563.03,99.93 564.83,99.78 575.00,99.10 C585.17,98.42 603.17,96.93 614.50,96.10 C625.83,95.27 633.88,94.80 643.00,94.10 C652.12,93.40 663.95,92.32 669.20,91.90 C674.45,91.48 673.62,91.65 674.50,91.60" stroke="#555" stroke-width="1.0" fill="none" stroke-linejoin="round"/>
<path d="M482.60,104.80L484.70,109.30L480.50,109.30Z" stroke="#444" stroke-width="0.9" fill="#fff"/>
<path d="M517.80,98.10L519.90,102.60L515.70,102.60Z" stroke="#444" stroke-width="0.9" fill="#fff"/>
<path d="M553.50,97.60L555.60,102.10L551.40,102.10Z" stroke="#444" stroke-width="0.9" fill="#fff"/>
<path d="M614.50,93.50L616.60,98.00L612.40,98.00Z" stroke="#444" stroke-width="0.9" fill="#fff"/>
<path d="M643.00,91.50L645.10,96.00L640.90,96.00Z" stroke="#444" stroke-width="0.9" fill="#fff"/>
<path d="M669.20,89.30L671.30,93.80L667.10,93.80Z" stroke="#444" stroke-width="0.9" fill="#fff"/>
<path d="M482.60,95.80 C487.78,95.23 502.47,93.70 513.70,92.40 C524.93,91.10 540.88,89.05 550.00,88.00 C559.12,86.95 564.23,86.33 568.40,86.10 C572.57,85.87 568.65,85.68 575.00,86.60 C581.35,87.52 597.93,91.68 606.50,91.60 C615.07,91.52 622.25,87.20 626.40,86.10 C630.55,85.00 623.38,85.32 631.40,85.00 C639.42,84.68 667.32,84.33 674.50,84.20" stroke="#555" stroke-width="1.0" fill="none" stroke-linejoin="round"/>
<ellipse cx="482.60" cy="95.80" rx="1.9" ry="1.85" stroke="#555" stroke-width="0.9" fill="#fff"/>
<ellipse cx="513.70" cy="92.40" rx="1.9" ry="1.85" stroke="#555" stroke-width="0.9" fill="#fff"/>
<ellipse cx="568.40" cy="86.10" rx="1.9" ry="1.85" stroke="#555" stroke-width="0.9" fill="#fff"/>
<ellipse cx="606.50" cy="91.60" rx="1.9" ry="1.85" stroke="#555" stroke-width="0.9" fill="#fff"/>
<ellipse cx="626.40" cy="86.10" rx="1.9" ry="1.85" stroke="#555" stroke-width="0.9" fill="#fff"/>
<path d="M482.60,73.30 C484.42,72.13 490.02,67.95 493.50,66.30 C496.98,64.65 498.35,63.90 503.50,63.40 C508.65,62.90 517.03,63.33 524.40,63.30 C531.77,63.27 542.02,63.47 547.70,63.20 C553.38,62.93 553.67,62.13 558.50,61.70 C563.33,61.27 573.67,60.78 576.70,60.60" stroke="#555" stroke-width="1.0" fill="none" stroke-linejoin="round"/>
<path d="M480.00,70.70L485.20,75.90M480.00,75.90L485.20,70.70" stroke="#444" stroke-width="0.9" fill="none"/>
<path d="M500.90,60.80L506.10,66.00M500.90,66.00L506.10,60.80" stroke="#444" stroke-width="0.9" fill="none"/>
<path d="M545.10,60.60L550.30,65.80M545.10,65.80L550.30,60.60" stroke="#444" stroke-width="0.9" fill="none"/>
<path d="M483.00,60.90 C486.45,60.90 492.65,60.90 503.70,60.90 C514.75,60.90 537.13,61.00 549.30,60.90 C561.47,60.80 565.37,61.82 576.70,60.30 C588.03,58.78 605.15,53.62 617.30,51.80 C629.45,49.98 641.17,49.80 649.60,49.40 C658.03,49.00 663.75,49.40 667.90,49.40 C672.05,49.40 673.40,49.40 674.50,49.40" stroke="#0a0a0a" stroke-width="2.0" fill="none" stroke-linejoin="round"/>
<path d="M483.00,57.60V64.20M480.10,58.00L485.90,63.80M480.10,63.80L485.90,58.00" stroke="#333" stroke-width="0.9" fill="none"/>
<path d="M503.70,57.60V64.20M500.80,58.00L506.60,63.80M500.80,63.80L506.60,58.00" stroke="#333" stroke-width="0.9" fill="none"/>
<path d="M576.70,57.00V63.60M573.80,57.40L579.60,63.20M573.80,63.20L579.60,57.40" stroke="#333" stroke-width="0.9" fill="none"/>
<path d="M617.30,48.50V55.10M614.40,48.90L620.20,54.70M614.40,54.70L620.20,48.90" stroke="#333" stroke-width="0.9" fill="none"/>
<path d="M649.60,46.10V52.70M646.70,46.50L652.50,52.30M646.70,52.30L652.50,46.50" stroke="#333" stroke-width="0.9" fill="none"/>
<path d="M667.90,46.10V52.70M665.00,46.50L670.80,52.30M665.00,52.30L670.80,46.50" stroke="#333" stroke-width="0.9" fill="none"/>
<path d="M24.60,343.90 C27.83,341.75 37.63,334.78 44.00,331.00 C50.37,327.22 58.78,323.20 62.80,321.20 C66.82,319.20 61.68,319.87 68.10,319.00 C74.52,318.13 92.98,316.68 101.30,316.00 C109.62,315.32 111.48,315.37 118.00,314.90 C124.52,314.43 130.12,313.82 140.40,313.20 C150.68,312.58 166.85,311.82 179.70,311.20 C192.55,310.58 211.20,309.78 217.50,309.50" stroke="#555" stroke-width="1.0" fill="none" stroke-linejoin="round"/>
<path d="M24.60,341.30V346.50" stroke="#333" stroke-width="1" fill="none"/>
<path d="M62.80,318.60V323.80" stroke="#333" stroke-width="1" fill="none"/>
<path d="M101.30,313.40V318.60" stroke="#333" stroke-width="1" fill="none"/>
<path d="M140.40,310.60V315.80" stroke="#333" stroke-width="1" fill="none"/>
<path d="M179.70,308.60V313.80" stroke="#333" stroke-width="1" fill="none"/>
<path d="M24.10,317.30 C30.33,317.17 53.42,317.02 61.50,316.50 C69.58,315.98 67.63,314.92 72.60,314.20 C77.57,313.48 83.73,312.87 91.30,312.20 C98.87,311.53 107.25,310.45 118.00,310.20 C128.75,309.95 145.85,311.30 155.80,310.70 C165.75,310.10 167.42,307.70 177.70,306.60 C187.98,305.50 210.87,304.52 217.50,304.10" stroke="#444" stroke-width="1.1" fill="none" stroke-linejoin="round"/>
<rect x="22.20" y="315.30" width="3.8" height="4.0" stroke="#333" stroke-width="0.9" fill="#fff"/>
<rect x="59.60" y="314.50" width="3.8" height="4.0" stroke="#333" stroke-width="0.9" fill="#fff"/>
<rect x="89.40" y="310.20" width="3.8" height="4.0" stroke="#333" stroke-width="0.9" fill="#fff"/>
<rect x="153.90" y="308.70" width="3.8" height="4.0" stroke="#333" stroke-width="0.9" fill="#fff"/>
<rect x="175.80" y="304.60" width="3.8" height="4.0" stroke="#333" stroke-width="0.9" fill="#fff"/>
<path d="M24.10,325.60 C29.63,323.25 49.13,314.18 57.30,311.50 C65.47,308.82 63.15,310.18 73.10,309.50 C83.05,308.82 105.37,308.03 117.00,307.40 C128.63,306.77 129.88,306.33 142.90,305.70 C155.92,305.07 183.63,304.62 195.10,303.60 C206.57,302.58 207.97,300.35 211.70,299.60 C215.43,298.85 216.53,299.18 217.50,299.10" stroke="#555" stroke-width="1.0" fill="none" stroke-linejoin="round"/>
<path d="M24.10,323.00L26.20,327.50L22.00,327.50Z" stroke="#444" stroke-width="0.9" fill="#fff"/>
<path d="M57.30,308.90L59.40,313.40L55.20,313.40Z" stroke="#444" stroke-width="0.9" fill="#fff"/>
<path d="M117.00,304.80L119.10,309.30L114.90,309.30Z" stroke="#444" stroke-width="0.9" fill="#fff"/>
<path d="M142.90,303.10L145.00,307.60L140.80,307.60Z" stroke="#444" stroke-width="0.9" fill="#fff"/>
<path d="M195.10,301.00L197.20,305.50L193.00,305.50Z" stroke="#444" stroke-width="0.9" fill="#fff"/>
<path d="M211.70,297.00L213.80,301.50L209.60,301.50Z" stroke="#444" stroke-width="0.9" fill="#fff"/>
<path d="M24.40,297.00 C31.68,295.45 52.35,291.08 68.10,287.70 C83.85,284.32 104.37,278.87 118.90,276.70 C133.43,274.53 142.18,276.08 155.30,274.70 C168.42,273.32 187.23,269.92 197.60,268.40 C207.97,266.88 214.18,266.07 217.50,265.60" stroke="#555" stroke-width="1.0" fill="none" stroke-linejoin="round"/>
<ellipse cx="24.40" cy="297.00" rx="1.9" ry="1.85" stroke="#555" stroke-width="0.9" fill="#fff"/>
<ellipse cx="68.10" cy="287.70" rx="1.9" ry="1.85" stroke="#555" stroke-width="0.9" fill="#fff"/>
<ellipse cx="118.90" cy="276.70" rx="1.9" ry="1.85" stroke="#555" stroke-width="0.9" fill="#fff"/>
<ellipse cx="155.30" cy="274.70" rx="1.9" ry="1.85" stroke="#555" stroke-width="0.9" fill="#fff"/>
<ellipse cx="197.60" cy="268.40" rx="1.9" ry="1.85" stroke="#555" stroke-width="0.9" fill="#fff"/>
<path d="M24.60,296.50 C27.15,291.98 36.10,274.55 39.90,269.40 C43.70,264.25 45.18,266.32 47.40,265.60 C49.62,264.88 48.65,264.95 53.20,265.10 C57.75,265.25 64.17,267.55 74.70,266.50 C85.23,265.45 105.10,260.53 116.40,258.80 C127.70,257.07 132.83,257.87 142.50,256.10 C152.17,254.33 164.53,249.43 174.40,248.20 C184.27,246.97 194.52,248.70 201.70,248.70 C208.88,248.70 214.87,248.28 217.50,248.20" stroke="#555" stroke-width="1.0" fill="none" stroke-linejoin="round"/>
<path d="M22.00,293.90L27.20,299.10M22.00,299.10L27.20,293.90" stroke="#444" stroke-width="0.9" fill="none"/>
<path d="M37.30,266.80L42.50,272.00M37.30,272.00L42.50,266.80" stroke="#444" stroke-width="0.9" fill="none"/>
<path d="M72.10,263.90L77.30,269.10M72.10,269.10L77.30,263.90" stroke="#444" stroke-width="0.9" fill="none"/>
<path d="M113.80,256.20L119.00,261.40M113.80,261.40L119.00,256.20" stroke="#444" stroke-width="0.9" fill="none"/>
<path d="M139.90,253.50L145.10,258.70M139.90,258.70L145.10,253.50" stroke="#444" stroke-width="0.9" fill="none"/>
<path d="M171.80,245.60L177.00,250.80M171.80,250.80L177.00,245.60" stroke="#444" stroke-width="0.9" fill="none"/>
<path d="M199.10,246.10L204.30,251.30M199.10,251.30L204.30,246.10" stroke="#444" stroke-width="0.9" fill="none"/>
<path d="M24.60,330.30 C24.60,330.30 39.90,259.00 39.90,259.00 C39.90,259.00 78.30,244.30 78.30,244.30 C78.30,244.30 116.20,242.40 116.20,242.40 C116.20,242.40 152.80,241.00 152.80,241.00 C152.80,241.00 174.40,237.70 174.40,237.70 C174.40,237.70 217.50,237.10 217.50,237.10" stroke="#0a0a0a" stroke-width="2.0" fill="none" stroke-linejoin="round"/>
<path d="M24.60,327.00V333.60M21.70,327.40L27.50,333.20M21.70,333.20L27.50,327.40" stroke="#333" stroke-width="0.9" fill="none"/>
<path d="M39.90,255.70V262.30M37.00,256.10L42.80,261.90M37.00,261.90L42.80,256.10" stroke="#333" stroke-width="0.9" fill="none"/>
<path d="M78.30,241.00V247.60M75.40,241.40L81.20,247.20M75.40,247.20L81.20,241.40" stroke="#333" stroke-width="0.9" fill="none"/>
<path d="M116.20,239.10V245.70M113.30,239.50L119.10,245.30M113.30,245.30L119.10,239.50" stroke="#333" stroke-width="0.9" fill="none"/>
<path d="M152.80,237.70V244.30M149.90,238.10L155.70,243.90M149.90,243.90L155.70,238.10" stroke="#333" stroke-width="0.9" fill="none"/>
<path d="M174.40,234.40V241.00M171.50,234.80L177.30,240.60M171.50,240.60L177.30,234.80" stroke="#333" stroke-width="0.9" fill="none"/>
<path d="M251.60,339.70 C258.05,337.35 277.50,330.72 290.30,325.60 C303.10,320.48 319.12,312.73 328.40,309.00 C337.68,305.27 339.47,305.37 346.00,303.20 C352.53,301.03 357.52,298.98 367.60,296.00 C377.68,293.02 393.52,288.75 406.50,285.30 C419.48,281.85 439.00,276.97 445.50,275.30" stroke="#555" stroke-width="1.0" fill="none" stroke-linejoin="round"/>
<path d="M290.30,323.00V328.20" stroke="#333" stroke-width="1" fill="none"/>
<path d="M328.40,306.40V311.60" stroke="#333" stroke-width="1" fill="none"/>
<path d="M367.60,293.40V298.60" stroke="#333" stroke-width="1" fill="none"/>
<path d="M406.50,282.70V287.90" stroke="#333" stroke-width="1" fill="none"/>
<path d="M445.50,272.70V277.90" stroke="#333" stroke-width="1" fill="none"/>
<path d="M265.40,296.50 C272.32,293.33 294.60,280.95 306.90,277.50 C319.20,274.05 332.68,276.32 339.20,275.80 C345.72,275.28 339.40,274.95 346.00,274.40 C352.60,273.85 365.67,273.47 378.80,272.50 C391.93,271.53 413.68,269.40 424.80,268.60 C435.92,267.80 442.05,267.85 445.50,267.70" stroke="#444" stroke-width="1.1" fill="none" stroke-linejoin="round"/>
<rect x="263.50" y="294.50" width="3.8" height="4.0" stroke="#333" stroke-width="0.9" fill="#fff"/>
<rect x="305.00" y="275.50" width="3.8" height="4.0" stroke="#333" stroke-width="0.9" fill="#fff"/>
<rect x="337.30" y="273.80" width="3.8" height="4.0" stroke="#333" stroke-width="0.9" fill="#fff"/>
<rect x="376.90" y="270.50" width="3.8" height="4.0" stroke="#333" stroke-width="0.9" fill="#fff"/>
<rect x="422.90" y="266.60" width="3.8" height="4.0" stroke="#333" stroke-width="0.9" fill="#fff"/>
<path d="M263.10,281.90 C270.40,281.17 293.12,279.07 306.90,277.50 C320.68,275.93 332.52,274.70 345.80,272.50 C359.08,270.30 373.52,266.65 386.60,264.30 C399.68,261.95 414.48,260.03 424.30,258.40 C434.12,256.77 441.97,255.15 445.50,254.50" stroke="#555" stroke-width="1.0" fill="none" stroke-linejoin="round"/>
<path d="M263.10,279.30L265.20,283.80L261.00,283.80Z" stroke="#444" stroke-width="0.9" fill="#fff"/>
<path d="M345.80,269.90L347.90,274.40L343.70,274.40Z" stroke="#444" stroke-width="0.9" fill="#fff"/>
<path d="M386.60,261.70L388.70,266.20L384.50,266.20Z" stroke="#444" stroke-width="0.9" fill="#fff"/>
<path d="M424.30,255.80L426.40,260.30L422.20,260.30Z" stroke="#444" stroke-width="0.9" fill="#fff"/>
<path d="M251.20,279.70 C252.97,279.38 253.55,279.97 261.80,277.80 C270.05,275.63 287.30,269.90 300.70,266.70 C314.10,263.50 334.65,259.88 342.20,258.60 C349.75,257.32 339.57,259.97 346.00,259.00 C352.43,258.03 369.75,255.15 380.80,252.80 C391.85,250.45 401.52,246.50 412.30,244.90 C423.08,243.30 439.97,243.48 445.50,243.20" stroke="#555" stroke-width="1.0" fill="none" stroke-linejoin="round"/>
<ellipse cx="251.20" cy="279.70" rx="1.9" ry="1.85" stroke="#555" stroke-width="0.9" fill="#fff"/>
<ellipse cx="261.80" cy="277.80" rx="1.9" ry="1.85" stroke="#555" stroke-width="0.9" fill="#fff"/>
<ellipse cx="300.70" cy="266.70" rx="1.9" ry="1.85" stroke="#555" stroke-width="0.9" fill="#fff"/>
<ellipse cx="342.20" cy="258.60" rx="1.9" ry="1.85" stroke="#555" stroke-width="0.9" fill="#fff"/>
<ellipse cx="380.80" cy="252.80" rx="1.9" ry="1.85" stroke="#555" stroke-width="0.9" fill="#fff"/>
<ellipse cx="412.30" cy="244.90" rx="1.9" ry="1.85" stroke="#555" stroke-width="0.9" fill="#fff"/>
<path d="M251.60,249.30 C255.33,249.22 268.47,249.13 274.00,248.80 C279.53,248.47 272.55,248.23 284.80,247.30 C297.05,246.37 320.72,244.08 347.50,243.20 C374.28,242.32 429.17,242.20 445.50,242.00" stroke="#666" stroke-width="1.0" fill="none" stroke-linejoin="round"/>
<path d="M251.60,293.40 C252.30,291.35 254.32,284.97 255.80,281.10 C257.28,277.23 258.35,273.88 260.50,270.20 C262.65,266.52 266.12,261.57 268.70,259.00 C271.28,256.43 273.23,255.82 276.00,254.80 C278.77,253.78 282.23,253.40 285.30,252.90 C288.37,252.40 287.07,253.37 294.40,251.80 C301.73,250.23 320.45,245.07 329.30,243.50 C338.15,241.93 338.77,242.50 347.50,242.40 C356.23,242.30 369.37,243.32 381.70,242.90 C394.03,242.48 411.42,240.47 421.50,239.90 C431.58,239.33 438.75,239.57 442.20,239.50" stroke="#555" stroke-width="1.0" fill="none" stroke-linejoin="round"/>
<path d="M249.00,290.80L254.20,296.00M249.00,296.00L254.20,290.80" stroke="#444" stroke-width="0.9" fill="none"/>
<path d="M266.10,256.40L271.30,261.60M266.10,261.60L271.30,256.40" stroke="#444" stroke-width="0.9" fill="none"/>
<path d="M291.80,249.20L297.00,254.40M291.80,254.40L297.00,249.20" stroke="#444" stroke-width="0.9" fill="none"/>
<path d="M326.70,240.90L331.90,246.10M326.70,246.10L331.90,240.90" stroke="#444" stroke-width="0.9" fill="none"/>
<path d="M379.10,240.30L384.30,245.50M379.10,245.50L384.30,240.30" stroke="#444" stroke-width="0.9" fill="none"/>
<path d="M418.90,237.30L424.10,242.50M418.90,242.50L424.10,237.30" stroke="#444" stroke-width="0.9" fill="none"/>
<path d="M439.60,236.90L444.80,242.10M439.60,242.10L444.80,236.90" stroke="#444" stroke-width="0.9" fill="none"/>
<path d="M251.60,260.20 C251.60,260.20 269.90,243.20 269.90,243.20 C269.90,243.20 305.20,239.90 305.20,239.90 C305.20,239.90 340.90,239.50 340.90,239.50 C340.90,239.50 362.60,238.20 362.60,238.20 C362.60,238.20 424.80,237.40 424.80,237.40 C424.80,237.40 443.80,237.40 443.80,237.40 C443.80,237.40 445.50,237.40 445.50,237.40" stroke="#0a0a0a" stroke-width="2.0" fill="none" stroke-linejoin="round"/>
<path d="M251.60,256.90V263.50M248.70,257.30L254.50,263.10M248.70,263.10L254.50,257.30" stroke="#333" stroke-width="0.9" fill="none"/>
<path d="M269.90,239.90V246.50M267.00,240.30L272.80,246.10M267.00,246.10L272.80,240.30" stroke="#333" stroke-width="0.9" fill="none"/>
<path d="M305.20,236.60V243.20M302.30,237.00L308.10,242.80M302.30,242.80L308.10,237.00" stroke="#333" stroke-width="0.9" fill="none"/>
<path d="M340.90,236.20V242.80M338.00,236.60L343.80,242.40M338.00,242.40L343.80,236.60" stroke="#333" stroke-width="0.9" fill="none"/>
<path d="M362.60,234.90V241.50M359.70,235.30L365.50,241.10M359.70,241.10L365.50,235.30" stroke="#333" stroke-width="0.9" fill="none"/>
<path d="M424.80,234.10V240.70M421.90,234.50L427.70,240.30M421.90,240.30L427.70,234.50" stroke="#333" stroke-width="0.9" fill="none"/>
<path d="M443.80,234.10V240.70M440.90,234.50L446.70,240.30M440.90,240.30L446.70,234.50" stroke="#333" stroke-width="0.9" fill="none"/>
<path d="M481.60,337.20 C488.00,334.98 507.20,327.13 520.00,323.90 C532.80,320.67 549.07,319.08 558.40,317.80 C567.73,316.52 569.47,316.97 576.00,316.20 C582.53,315.43 587.52,314.40 597.60,313.20 C607.68,312.00 623.52,310.67 636.50,309.00 C649.48,307.33 669.00,304.17 675.50,303.20" stroke="#555" stroke-width="1.0" fill="none" stroke-linejoin="round"/>
<path d="M520.00,321.30V326.50" stroke="#333" stroke-width="1" fill="none"/>
<path d="M558.40,315.20V320.40" stroke="#333" stroke-width="1" fill="none"/>
<path d="M597.60,310.60V315.80" stroke="#333" stroke-width="1" fill="none"/>
<path d="M636.50,306.40V311.60" stroke="#333" stroke-width="1" fill="none"/>
<path d="M675.50,300.60V305.80" stroke="#333" stroke-width="1" fill="none"/>
<path d="M481.60,311.50 C488.88,310.03 511.58,304.63 525.30,302.70 C539.02,300.77 555.45,300.42 563.90,299.90 C572.35,299.38 569.78,300.02 576.00,299.60 C582.22,299.18 590.20,299.07 601.20,297.40 C612.20,295.73 629.62,291.12 642.00,289.60 C654.38,288.08 669.92,288.52 675.50,288.30" stroke="#444" stroke-width="1.1" fill="none" stroke-linejoin="round"/>
<rect x="479.70" y="309.50" width="3.8" height="4.0" stroke="#333" stroke-width="0.9" fill="#fff"/>
<rect x="523.40" y="300.70" width="3.8" height="4.0" stroke="#333" stroke-width="0.9" fill="#fff"/>
<rect x="562.00" y="297.90" width="3.8" height="4.0" stroke="#333" stroke-width="0.9" fill="#fff"/>
<rect x="599.30" y="295.40" width="3.8" height="4.0" stroke="#333" stroke-width="0.9" fill="#fff"/>
<rect x="640.10" y="287.60" width="3.8" height="4.0" stroke="#333" stroke-width="0.9" fill="#fff"/>
<path d="M499.20,291.60 C504.52,290.68 518.33,287.67 531.10,286.10 C543.87,284.53 563.48,283.18 575.80,282.20 C588.12,281.22 593.42,281.08 605.00,280.20 C616.58,279.32 633.55,277.95 645.30,276.90 C657.05,275.85 670.47,274.40 675.50,273.90" stroke="#555" stroke-width="1.0" fill="none" stroke-linejoin="round"/>
<path d="M499.20,289.00L501.30,293.50L497.10,293.50Z" stroke="#444" stroke-width="0.9" fill="#fff"/>
<path d="M531.10,283.50L533.20,288.00L529.00,288.00Z" stroke="#444" stroke-width="0.9" fill="#fff"/>
<path d="M575.80,279.60L577.90,284.10L573.70,284.10Z" stroke="#444" stroke-width="0.9" fill="#fff"/>
<path d="M605.00,277.60L607.10,282.10L602.90,282.10Z" stroke="#444" stroke-width="0.9" fill="#fff"/>
<path d="M645.30,274.30L647.40,278.80L643.20,278.80Z" stroke="#444" stroke-width="0.9" fill="#fff"/>
<path d="M481.60,279.70 C483.98,279.15 490.33,278.52 495.90,276.40 C501.47,274.28 509.28,269.83 515.00,267.00 C520.72,264.17 520.20,261.57 530.20,259.40 C540.20,257.23 561.02,255.87 575.00,254.00 C588.98,252.13 601.50,250.05 614.10,248.20 C626.70,246.35 640.37,243.95 650.60,242.90 C660.83,241.85 671.35,242.07 675.50,241.90" stroke="#555" stroke-width="1.0" fill="none" stroke-linejoin="round"/>
<ellipse cx="481.60" cy="279.70" rx="1.9" ry="1.85" stroke="#555" stroke-width="0.9" fill="#fff"/>
<ellipse cx="495.90" cy="276.40" rx="1.9" ry="1.85" stroke="#555" stroke-width="0.9" fill="#fff"/>
<ellipse cx="530.20" cy="259.40" rx="1.9" ry="1.85" stroke="#555" stroke-width="0.9" fill="#fff"/>
<ellipse cx="575.00" cy="254.00" rx="1.9" ry="1.85" stroke="#555" stroke-width="0.9" fill="#fff"/>
<ellipse cx="614.10" cy="248.20" rx="1.9" ry="1.85" stroke="#555" stroke-width="0.9" fill="#fff"/>
<ellipse cx="650.60" cy="242.90" rx="1.9" ry="1.85" stroke="#555" stroke-width="0.9" fill="#fff"/>
<path d="M481.60,272.00 C482.62,271.09 488.98,262.56 493.80,261.10 C498.62,259.64 533.25,255.57 539.40,254.50 C545.55,253.43 564.43,248.89 567.60,248.20 C570.77,247.51 573.76,246.68 577.50,246.20 C581.24,245.72 606.48,242.86 612.50,242.40 C618.52,241.94 644.55,240.90 649.80,240.70 C655.05,240.50 673.36,240.06 675.50,240.00" stroke="#555" stroke-width="1.0" fill="none" stroke-linejoin="round"/>
<path d="M479.00,269.40L484.20,274.60M479.00,274.60L484.20,269.40" stroke="#444" stroke-width="0.9" fill="none"/>
<path d="M491.20,258.50L496.40,263.70M491.20,263.70L496.40,258.50" stroke="#444" stroke-width="0.9" fill="none"/>
<path d="M536.80,251.90L542.00,257.10M536.80,257.10L542.00,251.90" stroke="#444" stroke-width="0.9" fill="none"/>
<path d="M565.00,245.60L570.20,250.80M565.00,250.80L570.20,245.60" stroke="#444" stroke-width="0.9" fill="none"/>
<path d="M609.90,239.80L615.10,245.00M609.90,245.00L615.10,239.80" stroke="#444" stroke-width="0.9" fill="none"/>
<path d="M647.20,238.10L652.40,243.30M647.20,243.30L652.40,238.10" stroke="#444" stroke-width="0.9" fill="none"/>
<path d="M481.60,256.20 C481.60,256.20 492.60,247.30 492.60,247.30 C492.60,247.30 533.60,243.20 533.60,243.20 C533.60,243.20 571.70,239.50 571.70,239.50 C571.70,239.50 591.80,239.90 591.80,239.90 C591.80,239.90 647.30,238.20 647.30,238.20 C647.30,238.20 670.50,237.40 670.50,237.40 C670.50,237.40 675.50,237.40 675.50,237.40" stroke="#0a0a0a" stroke-width="2.0" fill="none" stroke-linejoin="round"/>
<path d="M492.60,244.00V250.60M489.70,244.40L495.50,250.20M489.70,250.20L495.50,244.40" stroke="#333" stroke-width="0.9" fill="none"/>
<path d="M533.60,239.90V246.50M530.70,240.30L536.50,246.10M530.70,246.10L536.50,240.30" stroke="#333" stroke-width="0.9" fill="none"/>
<path d="M571.70,236.20V242.80M568.80,236.60L574.60,242.40M568.80,242.40L574.60,236.60" stroke="#333" stroke-width="0.9" fill="none"/>
<path d="M591.80,236.60V243.20M588.90,237.00L594.70,242.80M588.90,242.80L594.70,237.00" stroke="#333" stroke-width="0.9" fill="none"/>
<path d="M647.30,234.90V241.50M644.40,235.30L650.20,241.10M644.40,241.10L650.20,235.30" stroke="#333" stroke-width="0.9" fill="none"/>
<path d="M670.50,234.10V240.70M667.60,234.50L673.40,240.30M667.60,240.30L673.40,234.50" stroke="#333" stroke-width="0.9" fill="none"/>
<line x1="328" y1="394.5" x2="352" y2="394.5" stroke="#111" stroke-width="2.2"/>
<path d="M339.6,391.3V397.7M336.90000000000003,391.8L342.3,397.2M336.90000000000003,397.2L342.3,391.8" stroke="#111" stroke-width="1" fill="none"/>
<text transform="translate(357,397.4) scale(0.89,1)" class="leg">MUMAL2</text>
<line x1="328" y1="404.6" x2="352" y2="404.6" stroke="#111" stroke-width="1.6"/>
<path d="M338.20000000000005,401.40000000000003L342.0,407.8M338.20000000000005,407.8L342.0,401.40000000000003" stroke="#111" stroke-width="1" fill="none"/>
<text transform="translate(357,407.5) scale(0.89,1)" class="leg">MUMAL</text>
<line x1="328" y1="414.0" x2="352" y2="414.0" stroke="#111" stroke-width="1.6"/>
<ellipse cx="340.4" cy="414.3" rx="2.3" ry="3.1" stroke="#111" stroke-width="1" fill="none"/>
<text transform="translate(357,416.9) scale(0.89,1)" class="leg">MUDE</text>
<line x1="328" y1="424.7" x2="352" y2="424.7" stroke="#111" stroke-width="1.6"/>
<line x1="341" y1="420.7" x2="341" y2="428.7" stroke="#111" stroke-width="1"/>
<text transform="translate(357,427.59999999999997) scale(0.89,1)" class="leg">PeptideProphet</text>
<line x1="328" y1="435.5" x2="352" y2="435.5" stroke="#111" stroke-width="1.6"/>
<rect x="338.6" y="433.6" width="3.9" height="3.9" stroke="#222" stroke-width="1" fill="#eee"/>
<text transform="translate(357,438.4) scale(0.89,1)" class="leg">Xcorr &amp; ΔCn</text>
<line x1="328" y1="446.7" x2="352" y2="446.7" stroke="#111" stroke-width="1.6"/>
<path d="M340.6,442.9L344.6,452.7L336.6,452.7Z" stroke="#111" stroke-width="1.8" fill="#fff"/>
<text transform="translate(357,449.59999999999997) scale(0.89,1)" class="leg">Xcorr &amp; ΔM</text>
</svg></div>
</body></html>
